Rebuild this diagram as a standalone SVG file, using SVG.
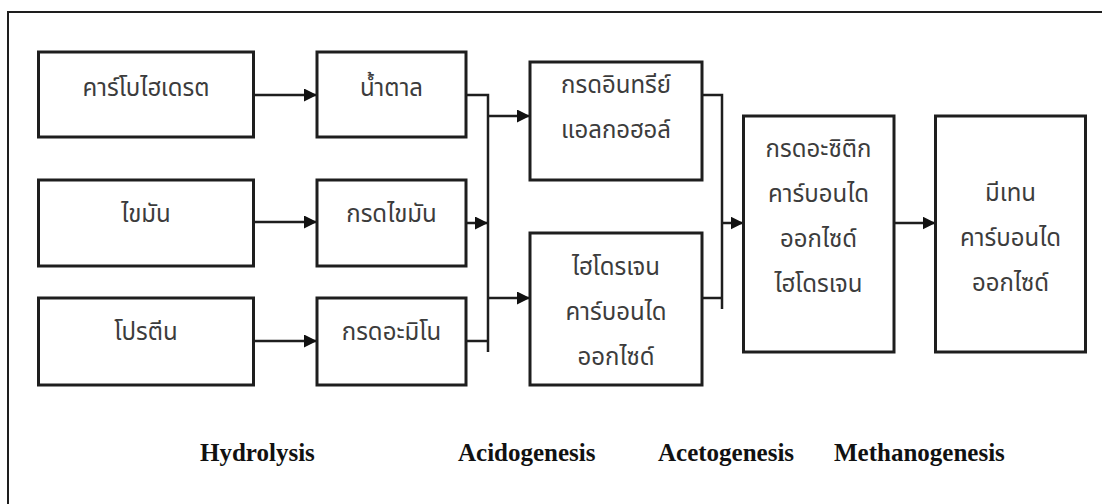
<svg xmlns="http://www.w3.org/2000/svg" width="1102" height="504" viewBox="0 0 1102 504">
  <style>
    .box { fill: #ffffff; stroke: #1e1e1e; stroke-width: 3; }
    .wire { fill: none; stroke: #1e1e1e; stroke-width: 2.5; }
    .frame { fill: none; stroke: #1e1e1e; stroke-width: 2; }
    .th { font-family: "Noto Sans Thai", "Noto Serif Thai", "Loma", "Garuda", "Tlwg Typo", "Noto Sans", sans-serif; font-size: 24px; fill: #3c3c3c; text-anchor: middle; }
    .stage { font-family: "Liberation Serif", "Times New Roman", serif; font-weight: bold; font-size: 25px; fill: #111111; }
  </style>
  <defs>
    <marker id="arrow" markerUnits="userSpaceOnUse" markerWidth="13" markerHeight="13" refX="13" refY="6.5" orient="auto">
      <path d="M0,0 L13,6.5 L0,13 Z" fill="#111111"/>
    </marker>
  </defs>

  <rect width="1102" height="504" fill="#ffffff"/>
  <!-- page frame, open to the right and bottom -->
  <path class="frame" d="M1110,12 H8 V510"/>

  <g id="connectors">
    <!-- substrate to monomer -->
    <path class="wire" d="M253.5,95 H317" marker-end="url(#arrow)"/>
    <path class="wire" d="M253.5,222 H317" marker-end="url(#arrow)"/>
    <path class="wire" d="M253.5,341 H317" marker-end="url(#arrow)"/>
    <!-- monomer collector bus -->
    <path class="wire" d="M466,95 H488 V352"/>
    <path class="wire" d="M466,223 H488" marker-end="url(#arrow)"/>
    <path class="wire" d="M466,341 H488"/>
    <path class="wire" d="M488,116 H530" marker-end="url(#arrow)"/>
    <path class="wire" d="M488,298 H530" marker-end="url(#arrow)"/>
    <!-- intermediate collector bus -->
    <path class="wire" d="M702,95 H722 V309"/>
    <path class="wire" d="M702,298 H722"/>
    <path class="wire" d="M722,223 H743.5" marker-end="url(#arrow)"/>
    <path class="wire" d="M894,223 H935.5" marker-end="url(#arrow)"/>
  </g>

  <g id="carbohydrate">
    <rect class="box" x="38.5" y="52" width="215" height="85"/>
    <text class="th" x="146" y="96">คาร์โบไฮเดรต</text>
  </g>
  <g id="fat">
    <rect class="box" x="38.5" y="180" width="215" height="86"/>
    <text class="th" x="146" y="222">ไขมัน</text>
  </g>
  <g id="protein">
    <rect class="box" x="38.5" y="298" width="215" height="87"/>
    <text class="th" x="146" y="340">โปรตีน</text>
  </g>
  <g id="sugar">
    <rect class="box" x="317" y="52" width="149" height="85"/>
    <text class="th" x="391.5" y="96">น้ำตาล</text>
  </g>
  <g id="fatty-acid">
    <rect class="box" x="317" y="180" width="149" height="86"/>
    <text class="th" x="391.5" y="222">กรดไขมัน</text>
  </g>
  <g id="amino-acid">
    <rect class="box" x="317" y="298" width="149" height="87"/>
    <text class="th" x="391.5" y="340">กรดอะมิโน</text>
  </g>
  <g id="organic-acid">
    <rect class="box" x="530" y="62" width="172" height="118"/>
    <text class="th" x="616" y="93">กรดอินทรีย์</text>
    <text class="th" x="616" y="138">แอลกอฮอล์</text>
  </g>
  <g id="hydrogen-co2">
    <rect class="box" x="530" y="233" width="172" height="152"/>
    <text class="th" x="616" y="275">ไฮโดรเจน</text>
    <text class="th" x="616" y="320">คาร์บอนได</text>
    <text class="th" x="616" y="365">ออกไซด์</text>
  </g>
  <g id="acetic-acid">
    <rect class="box" x="743.5" y="116" width="150.5" height="236"/>
    <text class="th" x="818.5" y="157">กรดอะซิติก</text>
    <text class="th" x="818.5" y="202">คาร์บอนได</text>
    <text class="th" x="818.5" y="247">ออกไซด์</text>
    <text class="th" x="818.5" y="292">ไฮโดรเจน</text>
  </g>
  <g id="methane">
    <rect class="box" x="935.5" y="116" width="150" height="236"/>
    <text class="th" x="1010.5" y="201">มีเทน</text>
    <text class="th" x="1010.5" y="246">คาร์บอนได</text>
    <text class="th" x="1010.5" y="291">ออกไซด์</text>
  </g>

  <g id="stages">
    <text class="stage" x="200" y="461">Hydrolysis</text>
    <text class="stage" x="458" y="461">Acidogenesis</text>
    <text class="stage" x="658" y="461">Acetogenesis</text>
    <text class="stage" x="834" y="461">Methanogenesis</text>
  </g>
</svg>
